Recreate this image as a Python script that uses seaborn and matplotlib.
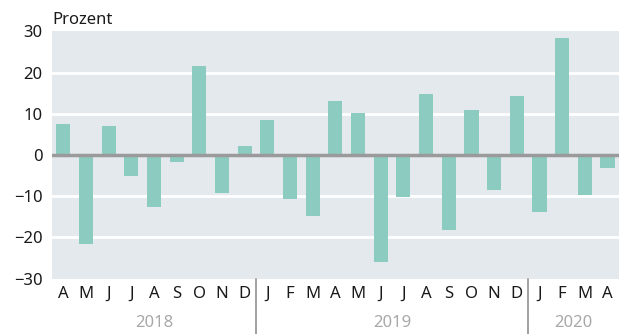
import matplotlib
matplotlib.use("Agg")
import matplotlib.pyplot as plt
import seaborn as sns
import pandas as pd

# Monthly change, April 2018 to April 2020
months = ["A", "M", "J", "J", "A", "S", "O", "N", "D",
          "J", "F", "M", "A", "M", "J", "J", "A", "S", "O", "N", "D",
          "J", "F", "M", "A"]
values = [7.6, -21.5, 7.1, -5.2, -12.7, -1.6, 21.5, -9.3, 2.3,
          8.4, -10.8, -14.9, 13.2, 10.3, -26.1, -10.1, 14.9, -18.3, 11.0, -8.4, 14.2,
          -13.9, 28.5, -9.8, -3.2]
years = ["2018", "2019", "2020"]
months_per_year = [9, 12, 4]
yticks = [-30, -20, -10, 0, 10, 20, 30]

sns.set_theme(style="white")
plt.rcParams["font.family"] = ["Noto Sans", "DejaVu Sans"]

df = pd.DataFrame({"idx": [f"{i:02d}" for i in range(len(values))], "val": values})

fig = plt.figure(figsize=(6.27, 3.34), dpi=100)
ax = fig.add_axes([0.083, 0.166, 0.904, 0.740])
ax.set_facecolor("#e4e9ed")

sns.barplot(data=df, x="idx", y="val", color="#8ccbbf", saturation=1,
            width=0.62, linewidth=0, ax=ax, zorder=3)

ax.set_ylim(-30, 30)
ax.set_xlim(-0.5, len(values) - 0.5)
ax.set_yticks(yticks)
ax.set_yticklabels(["\u221230", "\u221220", "\u221210", "0", "10", "20", "30"])
for y in [-20, -10, 10, 20]:
    ax.axhline(y, color="white", lw=2, zorder=1)
ax.axhline(0, color="#9a9a9a", lw=2.5, zorder=4)

ax.set_xticks(range(len(values)))
ax.set_xticklabels(months)
ax.tick_params(axis="both", length=0, labelsize=12, colors="#1a1a1a")
ax.tick_params(axis="x", pad=5)
ax.tick_params(axis="y", pad=7)
ax.set_xlabel("")
ax.set_ylabel("")
for s in ax.spines.values():
    s.set_visible(False)

# Year labels and separators below the month axis
start = 0
for i, (yr, n) in enumerate(zip(years, months_per_year)):
    center = start + (n - 1) / 2
    ax.text(center, -0.18, yr, transform=ax.get_xaxis_transform(),
            ha="center", va="center", fontsize=12, color="#a8a8a8")
    if i > 0:
        ax.plot([start - 0.5, start - 0.5], [0, -0.27], transform=ax.get_xaxis_transform(),
                color="#9a9a9a", lw=1.3, clip_on=False)
    start += n

ax.text(0, 1.015, "Prozent", transform=ax.transAxes, ha="left", va="bottom",
        fontsize=12, color="#1a1a1a")

fig.savefig("out.png", dpi=100)
